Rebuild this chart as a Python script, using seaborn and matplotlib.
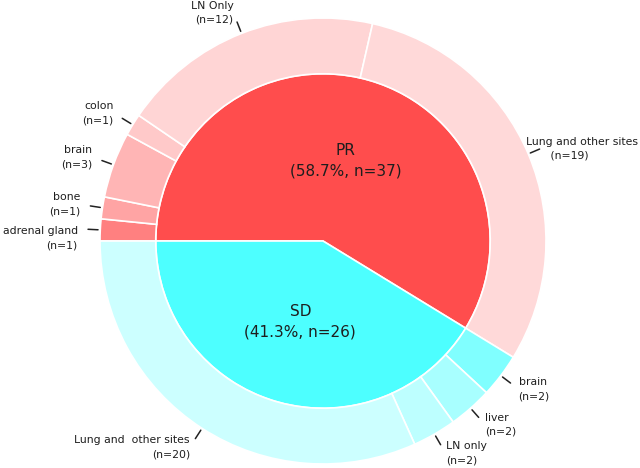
import numpy as np
import matplotlib
matplotlib.use("Agg")
import matplotlib.pyplot as plt
import seaborn as sns

# inner ring: response groups
groups = ["PR", "SD"]
group_counts = [37, 26]

# outer ring: metastatic sites per group
pr_sites = ["adrenal gland", "bone", "brain", "colon", "LN Only", "Lung and other sites"]
pr_counts = [1, 1, 3, 1, 12, 19]
sd_sites = ["brain", "liver", "LN only", "Lung and  other sites"]
sd_counts = [2, 2, 2, 20]

# colours
inner_colors = ["#FF4D4D", "#4DFFFF"]
pr_colors = ["#FF8080", "#FFA4A4", "#FFB5B5", "#FFC9C9", "#FFD5D5", "#FFD9D9"]
sd_colors = ["#80FFFF", "#A8FFFF", "#BDFFFF", "#CCFFFF"]

TEXT = "#1e1e1e"

sns.set_theme(style="white")
plt.rcParams["font.family"] = ["DejaVu Sans"]

fig = plt.figure(figsize=(6.4, 4.68), dpi=100)
ax = fig.add_axes([0, 0, 1, 1])

total = sum(group_counts)
inner_labels = [f"{g}\n({100 * n / total:.1f}%, n={n})" for g, n in zip(groups, group_counts)]
_, inner_texts = ax.pie(group_counts, radius=0.75, startangle=180, counterclock=False,
                        colors=inner_colors, labels=inner_labels, labeldistance=0.5,
                        wedgeprops=dict(edgecolor="white", linewidth=1.2),
                        textprops=dict(fontsize=11, color=TEXT, linespacing=1.45))
for t in inner_texts:
    t.set_ha("center")

outer_counts = pr_counts + sd_counts
outer_names = pr_sites + sd_sites
outer_labels = [f"{s}\n(n={n})" for s, n in zip(outer_names, outer_counts)]
wedges, outer_texts = ax.pie(outer_counts, radius=1.0, startangle=180, counterclock=False,
                             colors=pr_colors + sd_colors, labels=outer_labels, labeldistance=1.1,
                             wedgeprops=dict(width=0.25, edgecolor="white", linewidth=1.2),
                             textprops=dict(fontsize=7.8, color=TEXT, linespacing=1.5))

# the big PR "Lung" label was moved down the ring
lung_idx = len(pr_sites) - 1
lung_tick_angle = 23
lung_text_angle, lung_text_r = 24.5, 1.0
t = outer_texts[lung_idx]
t.set_text("Lung and other sites\n       (n=19)")
t.set_position((lung_text_r * np.cos(np.radians(lung_text_angle)),
                lung_text_r * np.sin(np.radians(lung_text_angle))))
t.set_ha("left")

# adrenal gland label sits a little lower than its wedge
adrenal_text_angle = 179.3
outer_texts[0].set_position((1.1 * np.cos(np.radians(adrenal_text_angle)),
                             1.1 * np.sin(np.radians(adrenal_text_angle))))

# short tick marks next to each outer label
for i, w in enumerate(wedges):
    ang = lung_tick_angle if i == lung_idx else (w.theta1 + w.theta2) / 2
    a = np.radians(ang)
    ax.plot([1.01 * np.cos(a), 1.055 * np.cos(a)], [1.01 * np.sin(a), 1.055 * np.sin(a)],
            color="#222222", lw=1.1)

ax.set_xlim(-323 / 223, (640 - 323) / 223)
ax.set_ylim(-(468 - 241) / 223, 241 / 223)
ax.set_aspect("equal")
ax.axis("off")

fig.savefig("out.png", dpi=100)
